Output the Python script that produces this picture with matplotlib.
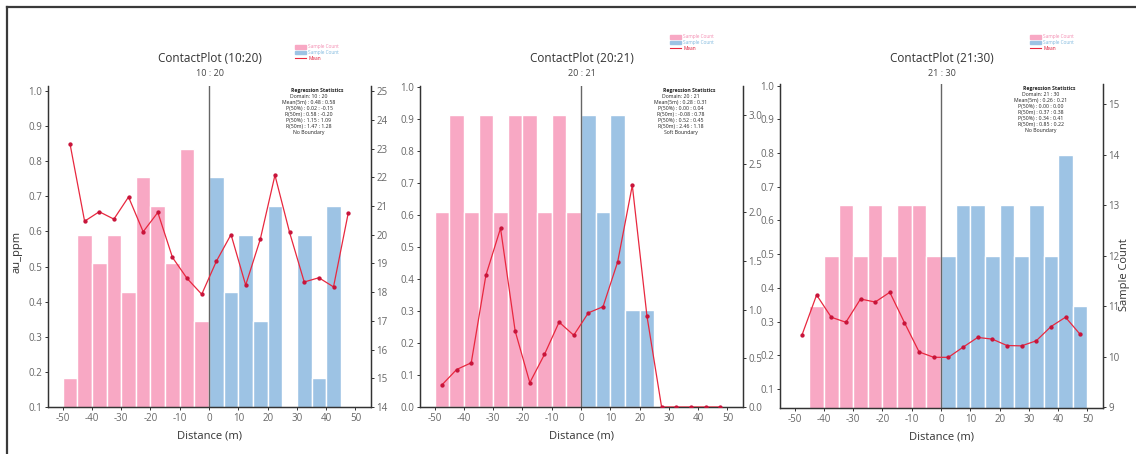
import matplotlib
matplotlib.use("Agg")
import matplotlib.pyplot as plt
from matplotlib.lines import Line2D
from matplotlib.patches import Patch
import numpy as np

plt.rcParams['font.family'] = ['Open Sans', 'DejaVu Sans']
plt.rcParams['axes.unicode_minus'] = False

# ---------------- data ----------------
distance = [-47.5, -42.5, -37.5, -32.5, -27.5, -22.5, -17.5, -12.5, -7.5, -2.5,
            2.5, 7.5, 12.5, 17.5, 22.5, 27.5, 32.5, 37.5, 42.5, 47.5]

titles = ["ContactPlot (10:20)", "ContactPlot (20:21)", "ContactPlot (21:30)"]
subtitles = ["10 : 20", "20 : 21", "21 : 30"]

count_1 = [15, 20, 19, 20, 18, 22, 21, 19, 23, 17,
           22, 18, 20, 17, 21, 0, 20, 15, 21, 0]
mean_1 = [0.85, 0.629, 0.656, 0.635, 0.698, 0.599, 0.654, 0.526, 0.466, 0.421,
          0.515, 0.591, 0.447, 0.578, 0.76, 0.597, 0.456, 0.468, 0.442, 0.651]

count_2 = [2, 3, 2, 3, 2, 3, 3, 2, 3, 2,
           3, 2, 3, 1, 1, 0, 0, 0, 0, 0]
mean_2 = [0.069, 0.117, 0.138, 0.411, 0.558, 0.237, 0.076, 0.164, 0.265, 0.224,
          0.294, 0.313, 0.453, 0.692, 0.284, 0.0, 0.0, 0.0, 0.0, 0.0]

count_3 = [0, 11, 12, 13, 12, 13, 12, 13, 13, 12,
           12, 13, 13, 12, 13, 12, 13, 12, 14, 11]
mean_3 = [0.26, 0.379, 0.313, 0.298, 0.367, 0.358, 0.387, 0.297, 0.21, 0.194,
          0.194, 0.224, 0.253, 0.248, 0.229, 0.228, 0.243, 0.285, 0.313, 0.262]

stats_1 = ["Regression Statistics", "Domain: 10 : 20", "Mean(5m) : 0.48 : 0.58",
           "P(50%) : 0.02 : -0.15", "R(50m) : 0.58 : -0.20", "P(50%) : 1.15 : 1.09",
           "R(50m) : 1.47 : 1.28", "No Boundary"]
stats_2 = ["Regression Statistics", "Domain: 20 : 21", "Mean(5m) : 0.28 : 0.31",
           "P(50%) : 0.00 : 0.04", "R(50m) : -0.08 : 0.78", "P(50%) : 0.52 : 0.45",
           "R(50m) : 2.46 : 1.18", "Soft Boundary"]
stats_3 = ["Regression Statistics", "Domain: 21 : 30", "Mean(5m) : 0.26 : 0.21",
           "P(50%) : 0.00 : 0.00", "R(50m) : 0.37 : 0.38", "P(50%) : 0.34 : 0.41",
           "R(50m) : 0.85 : 0.22", "No Boundary"]

left_ticks = [[0.1, 0.2, 0.3, 0.4, 0.5, 0.6, 0.7, 0.8, 0.9, 1.0],
              [0.0, 0.1, 0.2, 0.3, 0.4, 0.5, 0.6, 0.7, 0.8, 0.9, 1.0],
              [0.1, 0.2, 0.3, 0.4, 0.5, 0.6, 0.7, 0.8, 0.9, 1.0]]
right_ticks = [[14, 15, 16, 17, 18, 19, 20, 21, 22, 23, 24, 25],
               [0.0, 0.5, 1.0, 1.5, 2.0, 2.5, 3.0],
               [9, 10, 11, 12, 13, 14, 15]]
right_fmt = ["{:.0f}", "{:.1f}", "{:.0f}"]
x_ticks = [-50, -40, -30, -20, -10, 0, 10, 20, 30, 40, 50]

# ---------------- style ----------------
PINK = '#F8A8C4'
BLUE = '#9DC3E4'
RED = '#E8283F'
MRED = '#C8143A'
TICKC = '#666666'
SPINE = '#333333'

W, H = 1136, 454
fig = plt.figure(figsize=(W / 100, H / 100), dpi=100)

# pixel boxes: x0, top, x1, bottom
boxes = [(48, 86, 371, 407), (420, 86, 743, 407), (780, 84, 1103, 408)]
left_lims = [(0.1, 1.014), (0.0, 1.002), (0.0436, 1.005)]
right_lims = [(14, 25.18), (0.0, 3.296), (8.98, 15.4)]
counts = [count_1, count_2, count_3]
means = [mean_1, mean_2, mean_3]
stats = [stats_1, stats_2, stats_3]

def fx(px):
    return px / W

def fy(py):
    return 1 - py / H

for i in range(3):
    x0, top, x1, bot = boxes[i]
    ax = fig.add_axes([fx(x0), fy(bot), (x1 - x0) / W, (bot - top) / H])
    ax2 = ax.twinx()
    ax.set_zorder(ax2.get_zorder() + 1)
    ax.patch.set_visible(False)

    d = np.array(distance)
    c = np.array(counts[i], dtype=float)
    colors = [PINK if v < 0 else BLUE for v in d]
    ax2.bar(d, c, width=5, color=colors, edgecolor='white', linewidth=1.0)
    ax2.set_ylim(*right_lims[i])
    ax2.set_yticks(right_ticks[i])
    ax2.set_yticklabels([right_fmt[i].format(v) for v in right_ticks[i]])

    ax.axvline(0, color='#666666', lw=1.0, zorder=1)
    ax.plot(d, means[i], color=RED, lw=0.9, marker='o', ms=2.1,
            mfc=MRED, mec=MRED, zorder=3)
    ax.set_ylim(*left_lims[i])
    ax.set_yticks(left_ticks[i])
    ax.set_yticklabels(["{:.1f}".format(v) for v in left_ticks[i]])
    ax.set_xlim(-55, 55.3)
    ax.set_xticks(x_ticks)
    ax.set_xticklabels([str(v) for v in x_ticks])

    for a in (ax, ax2):
        a.spines['top'].set_visible(False)
        for s in ('left', 'right', 'bottom'):
            a.spines[s].set_color(SPINE)
            a.spines[s].set_linewidth(0.9)
        a.tick_params(labelsize=7, colors=TICKC, length=2.5, width=0.7, pad=1.5)
        a.tick_params(axis='both', color=SPINE)
    ax.set_xlabel("Distance (m)", fontsize=8, color='#333333', labelpad=5)

    cx = (x0 + x1) / 2
    fig.text(fx(cx), fy(58), titles[i], ha='center', va='center', fontsize=8.5, color='#333333')
    fig.text(fx(cx), fy(73), subtitles[i], ha='center', va='center', fontsize=6.5, color='#444444')

    # regression statistics block
    sx = x1 - 62
    sy = top + 2
    for k, line in enumerate(stats[i]):
        fig.text(fx(sx + (8 if k == 0 else 0)), fy(sy + k * 6.0), line,
                 ha='center', va='top', fontsize=3.7,
                 fontweight='bold' if k == 0 else 'normal', color='#222222')

    # small legend above
    lx = x1 - 78 if i == 0 else x1 - 75
    ly = 42 if i == 0 else 32
    handles = [Patch(facecolor=PINK, edgecolor=PINK), Patch(facecolor=BLUE, edgecolor=BLUE),
               Line2D([], [], color=RED, lw=0.8)]
    leg = fig.legend(handles, ["Sample Count", "Sample Count", "Mean"],
                     loc='upper left', bbox_to_anchor=(fx(lx), fy(ly)),
                     fontsize=3.4, frameon=False, handlelength=2.2, handleheight=0.8,
                     labelspacing=0.15, borderpad=0, handletextpad=0.5)
    for t, col in zip(leg.get_texts(), ['#F38BB0', '#7FB8DE', '#E0102F']):
        t.set_color(col)

fig.text(fx(17), fy(252), "au_ppm", rotation=90, ha='center', va='center',
         fontsize=8, color='#333333')
fig.text(fx(1125), fy(275), "Sample Count", rotation=90, ha='center', va='center',
         fontsize=8, color='#333333')

# screenshot frame lines
fig.add_artist(Line2D([fx(7), fx(1136)], [fy(7), fy(7)], color='#3a3a3a', lw=1.6))
fig.add_artist(Line2D([fx(7), fx(7)], [fy(7), fy(454)], color='#3a3a3a', lw=1.6))

fig.savefig("out.png", dpi=100)
